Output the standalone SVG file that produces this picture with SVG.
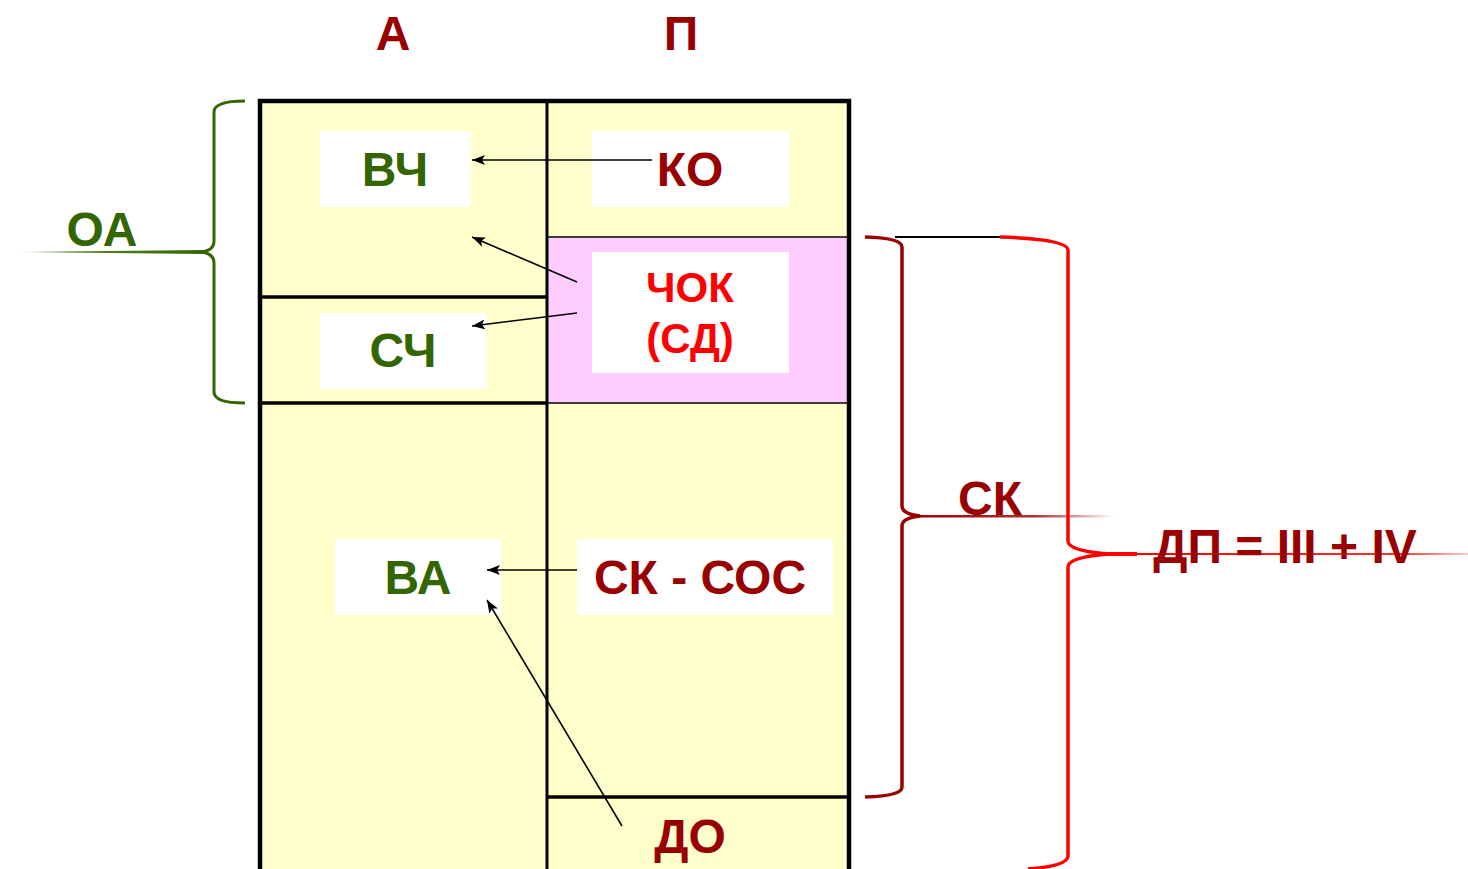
<svg xmlns="http://www.w3.org/2000/svg" width="1468" height="869" viewBox="0 0 1468 869">
<style>
text{font-family:"Liberation Sans",Arial,sans-serif;font-weight:bold;text-anchor:middle}
.g{fill:#336600;font-size:48px}
.d{fill:#990000;font-size:48px}
.r{fill:#FF0000;font-size:42px}
.box{fill:#FFFFFF}
.ln{stroke:#000;fill:none}
.arr{stroke:#000;stroke-width:1.6;fill:none;marker-end:url(#ah)}
</style>
<defs>
<marker id="ah" markerUnits="userSpaceOnUse" markerWidth="14" markerHeight="10" refX="13" refY="5" orient="auto">
<path d="M0,0 L13,5 L0,10 L3,5 Z" fill="#000"/>
</marker>
<linearGradient id="gfade" x1="0" y1="0" x2="1" y2="0">
<stop offset="0" stop-color="#336600" stop-opacity="0"/>
<stop offset="0.3" stop-color="#336600" stop-opacity="0.8"/>
<stop offset="1" stop-color="#336600"/>
</linearGradient>
<linearGradient id="dfade" x1="0" y1="0" x2="1" y2="0">
<stop offset="0" stop-color="#990000"/>
<stop offset="0.6" stop-color="#990000" stop-opacity="0.8"/>
<stop offset="1" stop-color="#990000" stop-opacity="0"/>
</linearGradient>
<linearGradient id="rfade" x1="0" y1="0" x2="1" y2="0">
<stop offset="0" stop-color="#FF0000"/>
<stop offset="0.8" stop-color="#FF0000" stop-opacity="0.8"/>
<stop offset="1" stop-color="#FF0000" stop-opacity="0.2"/>
</linearGradient>
</defs>

<g id="table">
<rect x="260" y="101" width="589" height="790" fill="#FFFFCC"/>
<rect x="547" y="237" width="302" height="166" fill="#FFCCFF"/>
<line class="ln" x1="547" y1="237" x2="849" y2="237" stroke-width="1.6"/>
<line class="ln" x1="547" y1="403" x2="849" y2="403" stroke-width="1.6"/>
<line class="ln" x1="260" y1="297" x2="547" y2="297" stroke-width="3.5"/>
<line class="ln" x1="260" y1="403" x2="547" y2="403" stroke-width="3.5"/>
<line class="ln" x1="547" y1="797" x2="849" y2="797" stroke-width="3.5"/>
<line class="ln" x1="547" y1="101" x2="547" y2="880" stroke-width="3"/>
<rect class="ln" x="260" y="101" width="589" height="790" stroke-width="4.5"/>
</g>

<g id="header-A"><text class="d" x="393" y="50">А</text></g>
<g id="header-P"><text class="d" x="681" y="50">П</text></g>

<g id="node-VCh"><rect class="box" x="320" y="131" width="151" height="76"/><text class="g" x="395" y="186">ВЧ</text></g>
<g id="node-KO"><rect class="box" x="592" y="131" width="197" height="76"/><text class="d" x="690" y="186">КО</text></g>
<g id="node-ChOK"><rect class="box" x="592" y="252" width="197" height="121"/><text class="r" x="690" y="302">ЧОК</text><text class="r" x="690" y="353">(СД)</text></g>
<g id="node-SCh"><rect class="box" x="320" y="313" width="167" height="76"/><text class="g" x="403" y="367">СЧ</text></g>
<g id="node-VA"><rect class="box" x="335" y="539" width="166" height="76"/><text class="g" x="418" y="594">ВА</text></g>
<g id="node-SK-SOS"><rect class="box" x="577" y="539" width="256" height="76"/><text class="d" x="700" y="594">СК - СОС</text></g>
<g id="node-DO"><text class="d" x="690" y="853">ДО</text></g>

<g id="connectors">
<line class="arr" x1="652" y1="160" x2="472" y2="160"/>
<line class="arr" x1="577" y1="282" x2="472" y2="237"/>
<line class="arr" x1="577" y1="313" x2="472" y2="326"/>
<line class="arr" x1="577" y1="570" x2="487" y2="570"/>
<line class="arr" x1="622" y1="826" x2="487" y2="600"/>
</g>

<g id="brace-OA">
<path d="M245,101 Q214,101 214,112 L214,241 Q214,251 200,252 Q214,253 214,263 L214,392 Q214,403 245,403" fill="none" stroke="#336600" stroke-width="3"/>
<path d="M10,252 L205,250 L205,254 Z" fill="url(#gfade)"/>
<text class="g" x="102" y="246">ОА</text>
</g>

<g id="brace-SK">
<path d="M865,237 Q902,238 902,247 L902,506 Q902,514 920,516 Q902,518 902,526 L902,787 Q902,796 865,797" fill="none" stroke="#990000" stroke-width="3.5"/>
<rect x="915" y="515" width="200" height="2.5" fill="url(#dfade)"/>
<text class="d" x="990" y="515">СК</text>
</g>

<line id="link-line" x1="895" y1="237" x2="1000" y2="237" stroke="#000" stroke-width="2"/>

<g id="brace-DP">
<path d="M1000,237 Q1068,239 1068,250 L1068,541 Q1068,551 1110,554 Q1068,557 1068,567 L1068,856 Q1068,866 1028,869" fill="none" stroke="#FF0000" stroke-width="3.5"/>
<rect x="1100" y="552" width="37" height="4" fill="#FF0000"/>
<rect x="1137" y="553" width="331" height="2" fill="url(#rfade)"/>
<text class="d" x="1285" y="563">ДП = III + IV</text>
</g>
</svg>
